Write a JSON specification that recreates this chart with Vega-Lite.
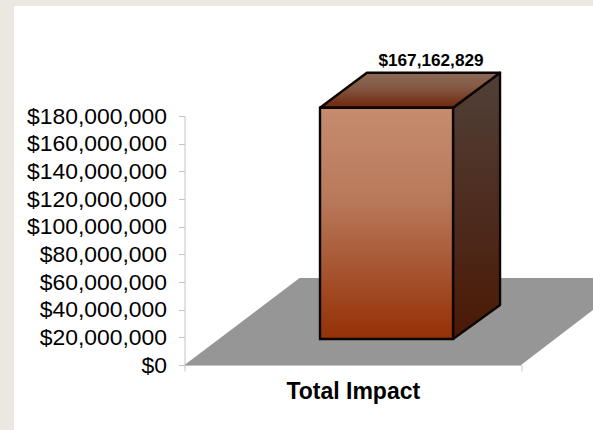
{
  "$schema": "https://vega.github.io/schema/vega-lite/v6.json",
  "width": 336.5,
  "height": 249,
  "autosize": "none",
  "padding": {"left": 184.5, "top": 116, "right": 72, "bottom": 65},
  "background": "#ebe8e1",
  "config": {"view": {"stroke": null}, "font": "Liberation Sans"},
  "datasets": {
    "impact": [{"category": "Total Impact", "value": 167162829}],
    "floor": [
      {"step": 0, "x": 0, "y": 0},
      {"step": 1, "x": 34.2, "y": 62900000},
      {"step": 2, "x": 121.4, "y": 62900000},
      {"step": 3, "x": 121.4, "y": 39800000},
      {"step": 4, "x": 100, "y": 0},
      {"step": 5, "x": 0, "y": 0}
    ],
    "sideFace": [
      {"step": 0, "x": 79.8, "y": 0},
      {"step": 1, "x": 93.77, "y": 24600000},
      {"step": 2, "x": 93.77, "y": 192462829},
      {"step": 3, "x": 79.8, "y": 167162829},
      {"step": 4, "x": 79.8, "y": 0}
    ],
    "topFace": [
      {"step": 0, "x": 40.27, "y": 167162829},
      {"step": 1, "x": 54.2, "y": 192462829},
      {"step": 2, "x": 93.77, "y": 192462829},
      {"step": 3, "x": 79.8, "y": 167162829},
      {"step": 4, "x": 40.27, "y": 167162829}
    ]
  },
  "layer": [
    {
      "description": "White slide panel behind the chart",
      "data": {"name": "impact"},
      "mark": {"type": "rect", "fill": "#ffffff"},
      "encoding": {
        "x": {
          "datum": -50.67,
          "type": "quantitative",
          "scale": {"domain": [0, 100], "nice": false, "zero": false},
          "axis": {
            "values": [0, 100],
            "labels": false,
            "grid": false,
            "zindex": 1,
            "domainColor": "#c4c4c4",
            "tickColor": "#c4c4c4",
            "tickSize": 6,
            "title": "Total Impact",
            "titleFont": "Liberation Sans",
            "titleFontSize": 23,
            "titleFontWeight": "bold",
            "titleColor": "#000000",
            "titlePadding": 9
          }
        },
        "x2": {"datum": 121.4},
        "y": {
          "datum": 259500000,
          "type": "quantitative",
          "scale": {"domain": [0, 180000000], "nice": false, "zero": false},
          "axis": {
            "values": [0, 20000000, 40000000, 60000000, 80000000, 100000000, 120000000, 140000000, 160000000, 180000000],
            "tickCount": 11,
            "format": "$,.0f",
            "grid": false,
            "zindex": 1,
            "domainColor": "#c4c4c4",
            "tickColor": "#c4c4c4",
            "tickSize": 6,
            "title": null,
            "labelFont": "Liberation Sans",
            "labelFontSize": 22.9,
            "labelColor": "#000000",
            "labelPadding": 12,
            "labelOverlap": false
          }
        },
        "y2": {"datum": -47000000}
      }
    },
    {
      "description": "Grey floor plane",
      "data": {"name": "floor"},
      "mark": {"type": "line", "fill": "#969696", "stroke": "#969696", "strokeWidth": 0},
      "encoding": {
        "x": {"field": "x", "type": "quantitative", "title": "Total Impact"},
        "y": {"field": "y", "type": "quantitative", "title": null},
        "order": {"field": "step", "type": "ordinal"}
      }
    },
    {
      "description": "Right side of the column",
      "data": {"name": "sideFace"},
      "mark": {
        "type": "line",
        "yOffset": -26,
        "stroke": "#0d0603",
        "strokeWidth": 2.4,
        "strokeJoin": "round",
        "fill": {
          "gradient": "linear", "x1": 0, "y1": 0, "x2": 0, "y2": 1,
          "stops": [{"offset": 0, "color": "#504038"}, {"offset": 1, "color": "#4b1906"}]
        }
      },
      "encoding": {
        "x": {"field": "x", "type": "quantitative", "title": "Total Impact"},
        "y": {"field": "y", "type": "quantitative", "title": null},
        "order": {"field": "step", "type": "ordinal"}
      }
    },
    {
      "description": "Top of the column",
      "data": {"name": "topFace"},
      "mark": {
        "type": "line",
        "yOffset": -26,
        "stroke": "#0d0603",
        "strokeWidth": 2.4,
        "strokeJoin": "round",
        "fill": {
          "gradient": "linear", "x1": 0, "y1": 0, "x2": 0, "y2": 1,
          "stops": [{"offset": 0, "color": "#8c6a58"}, {"offset": 0.4, "color": "#855a46"}, {"offset": 1, "color": "#6e260c"}]
        }
      },
      "encoding": {
        "x": {"field": "x", "type": "quantitative", "title": "Total Impact"},
        "y": {"field": "y", "type": "quantitative", "title": null},
        "order": {"field": "step", "type": "ordinal"}
      }
    },
    {
      "description": "Front of the column, drawn from the total",
      "data": {"name": "impact"},
      "mark": {
        "type": "bar",
        "yOffset": -26,
        "y2Offset": -26,
        "stroke": "#0d0603",
        "strokeWidth": 2.4,
        "fill": {
          "gradient": "linear", "x1": 0, "y1": 0, "x2": 0, "y2": 1,
          "stops": [{"offset": 0, "color": "#c68c6f"}, {"offset": 0.4, "color": "#b8795a"}, {"offset": 1, "color": "#943006"}]
        }
      },
      "encoding": {
        "x": {"datum": 40.27, "type": "quantitative", "title": "Total Impact"},
        "x2": {"datum": 79.8},
        "y": {"field": "value", "type": "quantitative", "title": null},
        "y2": {"datum": 0}
      }
    },
    {
      "description": "Value label above the column",
      "data": {"name": "impact"},
      "mark": {
        "type": "text",
        "font": "Liberation Sans",
        "fontSize": 17.2,
        "fontWeight": "bold",
        "color": "#000000",
        "align": "center",
        "baseline": "alphabetic",
        "yOffset": -68
      },
      "encoding": {
        "x": {"datum": 73.25, "type": "quantitative", "title": "Total Impact"},
        "y": {"field": "value", "type": "quantitative", "title": null},
        "text": {"field": "value", "type": "quantitative", "format": "$,.0f"}
      }
    }
  ]
}
